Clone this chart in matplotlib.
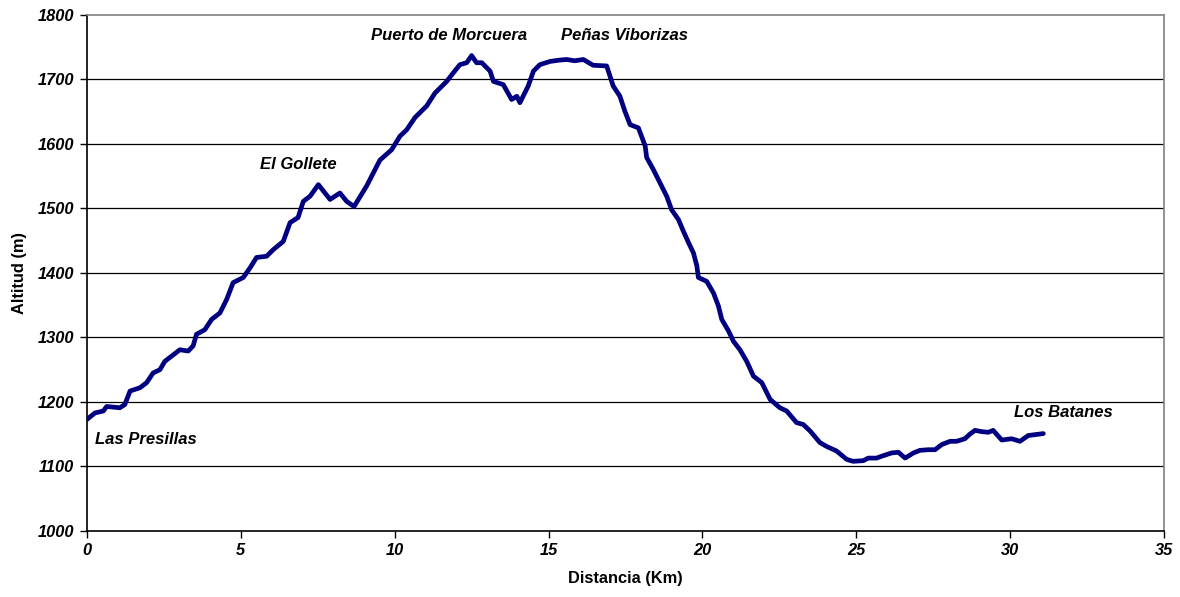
"""Perfil de altitud: Las Presillas - Los Batanes."""

import matplotlib

matplotlib.use("Agg")
import matplotlib.pyplot as plt

DIST = [
    0.0, 0.26, 0.53, 0.64, 1.07, 1.23, 1.40, 1.72, 1.94, 2.15, 2.37, 2.53,
    2.75, 3.02, 3.29, 3.45, 3.56, 3.83, 4.05, 4.32, 4.54, 4.75, 5.08, 5.30,
    5.51, 5.84, 6.05, 6.38, 6.60, 6.86, 7.03, 7.25, 7.52, 7.90, 8.22, 8.44,
    8.68, 9.09, 9.52, 9.90, 10.17, 10.39, 10.66, 11.04, 11.31, 11.69, 11.90,
    12.12, 12.34, 12.50, 12.66, 12.83, 13.10, 13.21, 13.53, 13.80, 13.97,
    14.07, 14.34, 14.51, 14.72, 15.05, 15.35, 15.59, 15.85, 16.13, 16.45,
    16.89, 17.10, 17.32, 17.48, 17.65, 17.92, 18.14, 18.19, 18.41, 18.62,
    18.84, 19.00, 19.22, 19.38, 19.55, 19.71, 19.82, 19.87, 20.14, 20.36,
    20.52, 20.63, 20.85, 21.01, 21.22, 21.44, 21.66, 21.93, 22.20, 22.52,
    22.74, 23.06, 23.28, 23.50, 23.82, 24.04, 24.36, 24.69, 24.90, 25.23,
    25.39, 25.66, 25.83, 26.15, 26.37, 26.59, 26.86, 27.07, 27.34, 27.56,
    27.78, 28.05, 28.26, 28.53, 28.69, 28.86, 29.08, 29.29, 29.45, 29.56,
    29.73, 30.05, 30.32, 30.59, 31.08,
]
ALT = [
    1173, 1183, 1186, 1193, 1191, 1196, 1217, 1222, 1230, 1245, 1250, 1263,
    1271, 1281, 1279, 1287, 1305, 1312, 1328, 1338, 1359, 1385, 1393, 1408,
    1424, 1426, 1436, 1449, 1478, 1486, 1511, 1519, 1537, 1514, 1524, 1511,
    1503, 1535, 1575, 1591, 1612, 1622, 1641, 1659, 1679, 1697, 1710,
    1723, 1726, 1737, 1726, 1726, 1713, 1697, 1692, 1669, 1674,
    1664, 1690, 1713, 1723, 1728, 1730, 1731, 1729, 1731, 1722,
    1721, 1690, 1674, 1651, 1630, 1625, 1597, 1579, 1560, 1540,
    1519, 1498, 1483, 1465, 1447, 1431, 1411, 1393, 1387, 1369,
    1349, 1328, 1310, 1294, 1281, 1263, 1240, 1230, 1204, 1191,
    1186, 1168, 1165, 1155, 1137, 1131, 1124, 1111, 1108, 1109,
    1113, 1113, 1116, 1121, 1122, 1113, 1121, 1125, 1126, 1126,
    1134, 1139, 1139, 1143, 1150, 1156, 1154, 1153, 1156, 1150,
    1141, 1143, 1139, 1148, 1151,
]

PLACES = ["Las Presillas", "El Gollete", "Puerto de Morcuera",
          "Peñas Viborizas", "Los Batanes"]
PLACE_X = [0.26, 6.86, 11.76, 17.48, 31.72]
PLACE_Y = [1142, 1568, 1768, 1768, 1184]
PLACE_HA = ["left", "center", "center", "center", "center"]

X_TICKS = [0, 5, 10, 15, 20, 25, 30, 35]
Y_TICKS = [1000, 1100, 1200, 1300, 1400, 1500, 1600, 1700, 1800]


def main():
    plt.rcParams["font.family"] = ["Liberation Sans", "DejaVu Sans"]
    fig = plt.figure(figsize=(11.8, 5.97), dpi=100)
    ax = fig.add_axes([0.0737, 0.1106, 0.9127, 0.8643])

    for y in Y_TICKS[1:-1]:
        ax.axhline(y, color="black", linewidth=0.9, zorder=1)

    ax.plot(DIST, ALT, color="#000080", linewidth=3.4,
            solid_joinstyle="round", solid_capstyle="round", zorder=3)

    for name, x, y, ha in zip(PLACES, PLACE_X, PLACE_Y, PLACE_HA):
        ax.text(x, y, name, ha=ha, va="center", fontsize=12,
                fontweight="bold", fontstyle="italic")

    ax.set_xlim(0, 35)
    ax.set_ylim(1000, 1800)
    ax.set_xticks(X_TICKS)
    ax.set_yticks(Y_TICKS)
    for lbl in ax.get_xticklabels() + ax.get_yticklabels():
        lbl.set_fontweight("bold")
        lbl.set_fontstyle("italic")
        lbl.set_fontsize(11.8)
    ax.tick_params(direction="out", length=5, width=1, color="black", pad=4)

    ax.spines["left"].set_color("black")
    ax.spines["bottom"].set_color("black")
    ax.spines["top"].set_color("#808080")
    ax.spines["right"].set_color("#808080")
    for s in ax.spines.values():
        s.set_linewidth(1.2)

    ax.set_xlabel("Distancia (Km)", fontsize=11.8, fontweight="bold", labelpad=9)
    ax.set_ylabel("Altitud (m)", fontsize=11.8, fontweight="bold", labelpad=8)

    fig.savefig("out.png", dpi=100, facecolor="white")
    plt.close(fig)


if __name__ == "__main__":
    main()
